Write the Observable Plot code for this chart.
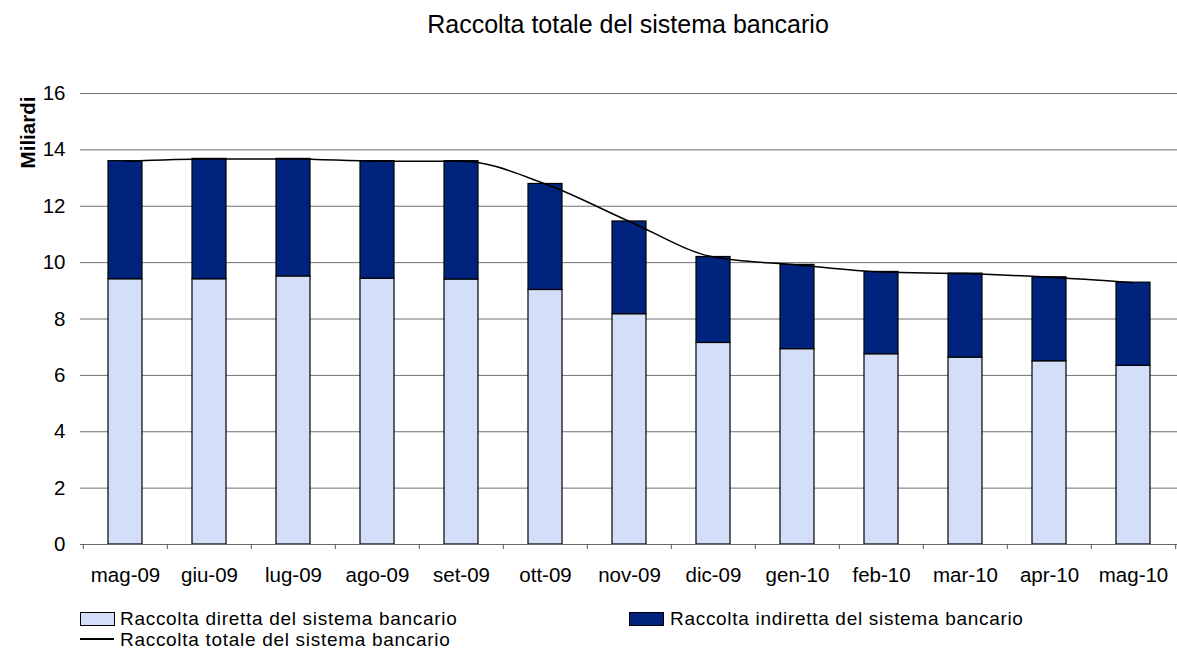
<!DOCTYPE html>
<html><head><meta charset="utf-8">
<script src="https://cdn.jsdelivr.net/npm/d3@7"></script>
<script src="https://cdn.jsdelivr.net/npm/@observablehq/plot@0.6"></script>
<style>
body{margin:0;background:#fff;font-family:"Liberation Sans",Arial,sans-serif;color:#000;}
#title{height:56px;line-height:49px;font-size:25px;text-align:center;padding-left:79px;width:1098px;overflow:hidden;}
#chart svg{display:block;}
#legend{position:relative;height:58px;width:1177px;font-size:19px;letter-spacing:0.7px;}
#legend .sw{position:absolute;box-sizing:border-box;border:1.5px solid #000;width:35px;height:14px;}
#legend .ln{position:absolute;width:34px;height:2px;background:#000;}
#legend .tx{position:absolute;line-height:21px;white-space:nowrap;}
</style></head><body>
<div id="title">Raccolta totale del sistema bancario</div>
<div id="chart"></div>
<div id="legend"></div>
<script>
const months = ["mag-09","giu-09","lug-09","ago-09","set-09","ott-09","nov-09","dic-09","gen-10","feb-10","mar-10","apr-10","mag-10"];
const diretta = [9.41, 9.41, 9.51, 9.43, 9.40, 9.03, 8.17, 7.15, 6.93, 6.75, 6.63, 6.50, 6.34];
const indiretta = [4.19, 4.27, 4.17, 4.17, 4.20, 3.76, 3.29, 3.05, 2.99, 2.92, 2.98, 2.98, 2.95];
const totale = [13.60, 13.68, 13.68, 13.60, 13.60, 12.79, 11.46, 10.20, 9.92, 9.67, 9.61, 9.48, 9.29];
const yTicks = [0, 2, 4, 6, 8, 10, 12, 14, 16];
const seriesNames = ["Raccolta diretta del sistema bancario", "Raccolta indiretta del sistema bancario", "Raccolta totale del sistema bancario"];
const colors = ["#D3DFF8", "#00237E", "#000000"];
const yLabel = "Miliardi";

const bars = months.flatMap((m, i) => [
  {month: m, series: seriesNames[0], value: diretta[i]},
  {month: m, series: seriesNames[1], value: indiretta[i]}
]);
const lineData = months.map((m, i) => ({month: m, value: totale[i]}));

const W = 1177, H = 536, ML = 80, MR = 0, MT = 37, MB = 48;
const step = (W - ML - MR) / months.length;
const FS = 20.5;

const plot = Plot.plot({
  width: W, height: H,
  marginLeft: ML, marginRight: MR, marginTop: MT, marginBottom: MB,
  style: {fontFamily: "Liberation Sans, Arial, sans-serif", fontSize: FS + "px", color: "#000", background: "#fff"},
  x: {domain: months, paddingInner: 0.6, paddingOuter: 0.3, label: null},
  y: {domain: [0, 16], label: null},
  color: {domain: seriesNames.slice(0, 2), range: colors.slice(0, 2)},
  marks: [
    Plot.ruleY(yTicks, {stroke: "#707070", strokeWidth: 1}),
    Plot.barY(bars, {x: "month", y: "value", fill: "series", stroke: "#000", strokeWidth: 1.2}),
    Plot.line(lineData, {x: "month", y: "value", curve: "monotone-x", stroke: colors[2], strokeWidth: 1.5}),
    Plot.ruleY([0], {stroke: "#666"}),
    Plot.ruleX(months, {x: d => d, y1: 0, y2: 0, insetBottom: -5, dx: -step / 2, stroke: "#555"}),
    Plot.ruleX([months[months.length - 1]], {x: d => d, y1: 0, y2: 0, insetBottom: -5, dx: step / 2, stroke: "#555"}),
    Plot.axisX({tickSize: 0, tickPadding: 23, fontSize: FS, label: null}),
    Plot.axisY(yTicks, {tickSize: 0, tickPadding: 15, fontSize: FS, label: null}),
    Plot.text([yLabel], {text: d => d, frameAnchor: "top-left", textAnchor: "middle", rotate: -90, dx: -60, dy: 39, fontWeight: "bold", fontSize: FS})
  ]
});
document.getElementById("chart").appendChild(plot);

const lg = document.getElementById("legend");
function add(cls, style, text) {
  const el = document.createElement("div");
  el.className = cls;
  Object.assign(el.style, style);
  if (text) el.textContent = text;
  lg.appendChild(el);
}
add("sw", {left: "80px", top: "20px", background: colors[0]});
add("tx", {left: "120px", top: "15.9px"}, seriesNames[0]);
add("sw", {left: "629px", top: "20px", background: colors[1]});
add("tx", {left: "670px", top: "15.9px"}, seriesNames[1]);
add("ln", {left: "80px", top: "46px", background: colors[2]});
add("tx", {left: "120px", top: "37.2px"}, seriesNames[2]);
</script>
</body></html>
